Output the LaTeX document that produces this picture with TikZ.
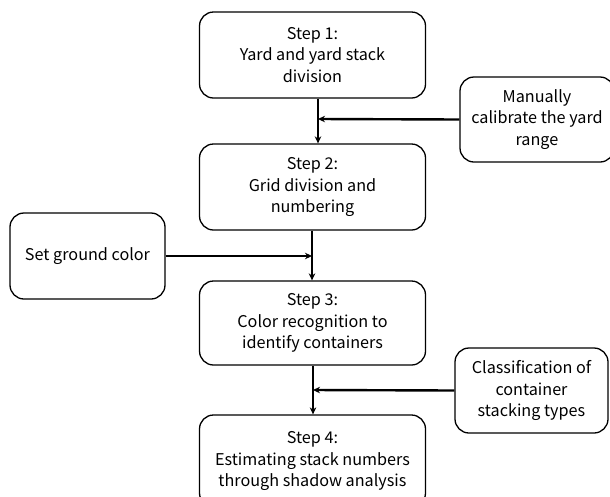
\documentclass[tikz,border=0pt]{standalone}
\usepackage{fontspec}
\setmainfont{Noto Sans CJK SC}
\usetikzlibrary{arrows.meta}
\begin{document}
\begin{tikzpicture}[x=1pt,y=-1pt,
  box/.style={draw=black,line width=1.3pt,rounded corners=14pt,align=center,
    font=\fontsize{16.2}{21.5}\selectfont,inner sep=0pt},
  conn/.style={line width=2.4pt,-{Stealth[length=7pt,width=6.5pt]}}]
\useasboundingbox (0,0) rectangle (610,496);
\clip (0,0) rectangle (610,496);
\node[box,minimum width=226pt,minimum height=86pt] (s1) at (312.5,55) {Step 1:\\Yard and yard stack\\division};
\node[box,minimum width=226pt,minimum height=86pt] (s2) at (312.5,187) {Step 2:\\Grid division and\\numbering};
\node[box,minimum width=226pt,minimum height=84pt] (s3) at (312.5,323) {Step 3:\\Color recognition to\\identify containers};
\node[box,minimum width=226pt,minimum height=92pt] (s4) at (312.5,461) {Step 4:\\Estimating stack numbers\\through shadow analysis};
\node[box,minimum width=154pt,minimum height=85pt] (m) at (537,119.5) {Manually\\calibrate the yard\\range};
\node[box,minimum width=155pt,minimum height=86pt] (g) at (87.5,256) {Set ground color};
\node[box,minimum width=153pt,minimum height=85pt] (c) at (531.5,390.5) {Classification of\\container\\stacking types};
\coordinate (j1) at (318,119);
\coordinate (j2) at (312,256);
\coordinate (j3) at (313,390);
\draw[conn] (s1.south -| j1) -- (s2.north -| j1);
\draw[conn] (m.west) -- (j1);
\draw[conn] (s2.south -| j2) -- (s3.north -| j2);
\draw[conn] (g.east) -- (j2);
\draw[conn] (s3.south -| j3) -- (s4.north -| j3);
\draw[conn] (c.west) -- (j3);
\end{tikzpicture}
\end{document}
